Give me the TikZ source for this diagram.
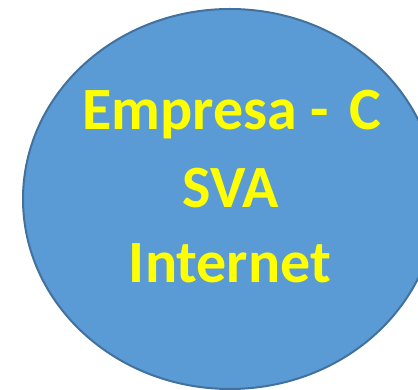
\documentclass[tikz,border=0pt]{standalone}
\usepackage{fontspec}
\setmainfont{Carlito}
\definecolor{cellfill}{HTML}{5B9BD5}
\definecolor{celledge}{HTML}{41719C}
\definecolor{wordyellow}{HTML}{FFFF00}
\tikzset{cell/.style = {draw=celledge, fill=cellfill, line width=2pt}}
\tikzset{word/.style = {anchor=base, text=wordyellow, font=\fontsize{60}{70}\selectfont\bfseries, inner sep=0}}

\begin{document}
\begin{tikzpicture}[x=1pt, y=1pt]
    \useasboundingbox (0, 0) rectangle (418, 390);
    \clip (0, 0) rectangle (418, 390);
    \draw [cell] (230, 191) ellipse [x radius=207, y radius=190];

    \node [word] (empresa) at (232, 260) {Empresa - \hspace{0.12em}C};
    \node [word] (sva) at (231, 182) {SVA};
    \node [word] (internet) at (230, 107) {Internet};
  \end{tikzpicture}
\end{document}
